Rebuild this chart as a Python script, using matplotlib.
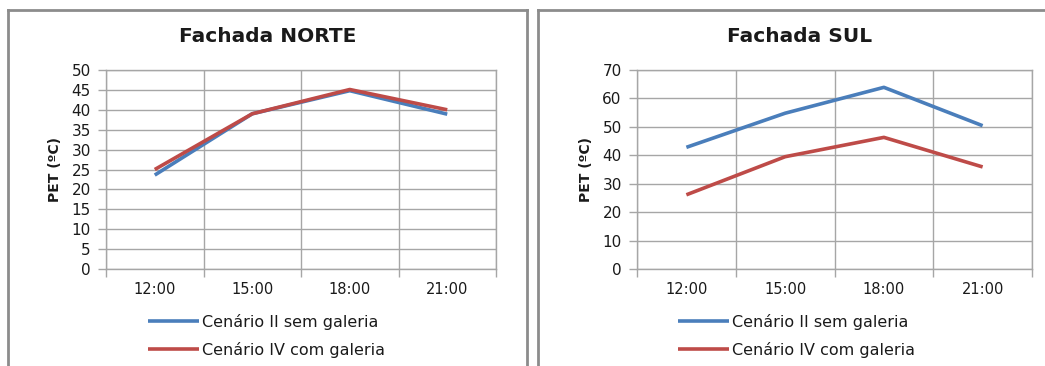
import matplotlib
matplotlib.use("Agg")
import matplotlib.pyplot as plt
from matplotlib.lines import Line2D

plt.rcParams['font.family'] = ['DejaVu Sans']

horarios = ["12:00", "15:00", "18:00", "21:00"]

norte_sem_galeria = [23.6, 39.0, 44.8, 38.9]
norte_com_galeria = [25.0, 39.0, 45.1, 40.0]

sul_sem_galeria = [42.8, 54.8, 63.9, 50.4]
sul_com_galeria = [26.1, 39.5, 46.3, 35.9]

serie_labels = ["Cenário II sem galeria", "Cenário IV com galeria"]
titulos = ["Fachada NORTE", "Fachada SUL"]

AZUL = "#4a7ebb"
VERMELHO = "#be4b48"
GRADE = "#a6a6a6"
BORDA = "#8c8c8c"
TEXTO = "#1a1a1a"

W, H = 1045, 366
fig = plt.figure(figsize=(W / 100, H / 100), dpi=100)


def fx(px):
    return px / W


def fy(py):
    return 1 - py / H


# panel frames
for seg in [
    ((8, 8), (366, 10)), ((8, 527), (10, 10)), ((527, 527), (10, 366)),
    ((538, 538), (366, 10)), ((538, 1045), (10, 10)),
]:
    xs, ys = seg
    fig.add_artist(Line2D([fx(x) for x in xs], [fy(y) for y in ys],
                          color=BORDA, lw=2.0))

paineis = [
    dict(left=106, right=496, dados=(norte_sem_galeria, norte_com_galeria),
         ymax=50, step=5, titulo_x=268, legenda_x=148),
    dict(left=637, right=1032, dados=(sul_sem_galeria, sul_com_galeria),
         ymax=70, step=10, titulo_x=800, legenda_x=678),
]

top_px, bottom_px = 70, 269

for p, titulo in zip(paineis, titulos):
    ax = fig.add_axes([fx(p["left"]), fy(bottom_px),
                       (p["right"] - p["left"]) / W, (bottom_px - top_px) / H])
    x = list(range(len(horarios)))
    sem, com = p["dados"]
    l1, = ax.plot(x, sem, color=AZUL, lw=2.6, solid_capstyle='butt')
    l2, = ax.plot(x, com, color=VERMELHO, lw=2.6, solid_capstyle='butt')

    ax.set_xlim(-0.5, len(horarios) - 0.5)
    ax.set_ylim(0, p["ymax"])
    ax.set_yticks(range(0, p["ymax"] + 1, p["step"]))
    ax.set_xticks(x)
    ax.set_xticklabels(horarios)
    ax.set_xticks([i - 0.5 for i in range(len(horarios) + 1)], minor=True)

    ax.grid(True, which='major', axis='y', color=GRADE, lw=1.0)
    ax.grid(True, which='minor', axis='x', color=GRADE, lw=1.0)
    ax.set_axisbelow(True)

    # the outer gridlines double as a light frame around the plot area
    for s in ("left", "bottom", "top", "right"):
        ax.spines[s].set_color(GRADE)
        ax.spines[s].set_linewidth(1.0)

    ax.tick_params(axis='x', which='major', length=0, labelsize=10.5, pad=9,
                   colors=TEXTO)
    ax.tick_params(axis='x', which='minor', length=6, color=GRADE, width=1.0)
    ax.tick_params(axis='y', length=6, color=GRADE, width=1.0, labelsize=11,
                   pad=5, labelcolor=TEXTO)

    ax.set_ylabel("PET (ºC)", fontsize=10, fontweight='bold', labelpad=7,
                  color=TEXTO)

    fig.text(fx(p["titulo_x"]), fy(37), titulo, fontsize=14.5,
             fontweight='bold', ha='center', va='center', color=TEXTO)

    leg = fig.legend([l1, l2], serie_labels, loc='center left',
                     bbox_to_anchor=(fx(p["legenda_x"]), fy(336)),
                     frameon=False, fontsize=11.5, handlelength=3.2,
                     handletextpad=0.15, labelspacing=0.75, borderpad=0,
                     borderaxespad=0)
    for t in leg.get_texts():
        t.set_color(TEXTO)

fig.savefig("out.png", dpi=100)
